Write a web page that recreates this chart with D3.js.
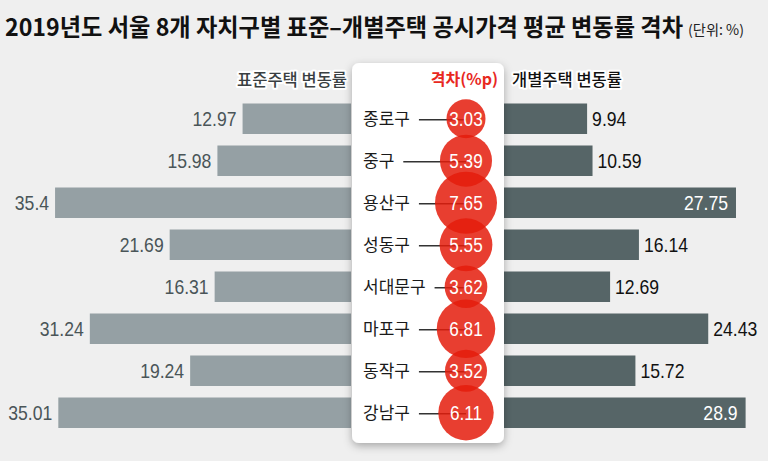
<!DOCTYPE html>
<html>
<head>
<meta charset="utf-8">
<script src="https://cdn.jsdelivr.net/npm/d3@7"></script>
<style>
  html, body { margin: 0; padding: 0; background: #efefef; }
  svg { display: block; }
</style>
</head>
<body>
<svg id="chart" width="768" height="461"></svg>
<script>
const districts = ["종로구", "중구", "용산구", "성동구", "서대문구", "마포구", "동작구", "강남구"];
const standardChange = [12.97, 15.98, 35.4, 21.69, 16.31, 31.24, 19.24, 35.01];
const individualChange = [9.94, 10.59, 27.75, 16.14, 12.69, 24.43, 15.72, 28.9];
const gapValues = [3.03, 5.39, 7.65, 5.55, 3.62, 6.81, 3.52, 6.11];
const gapLabels = ["3.03", "5.39", "7.65", "5.55", "3.62", "6.81", "3.52", "6.11"];
const standardLabels = ["12.97", "15.98", "35.4", "21.69", "16.31", "31.24", "19.24", "35.01"];
const individualLabels = ["9.94", "10.59", "27.75", "16.14", "12.69", "24.43", "15.72", "28.9"];

const titleText = "2019년도 서울 8개 자치구별 표준–개별주택 공시가격 평균 변동률 격차";
const unitText = "(단위: %)";
const leftHeader = "표준주택 변동률";
const rightHeader = "개별주택 변동률";
const gapHeader = "격차(%p)";

const svg = d3.select("#chart");
const numFont = "'Liberation Sans', Arial, sans-serif";
const krFont = "'Noto Sans CJK KR', 'Noto Sans', sans-serif";
const squeeze = 0.88;

const defs = svg.append("defs");
const f = defs.append("filter").attr("id", "shadow").attr("x", "-20%").attr("y", "-10%").attr("width", "140%").attr("height", "120%");
f.append("feDropShadow").attr("dx", 0).attr("dy", 3).attr("stdDeviation", 4).attr("flood-color", "#000").attr("flood-opacity", 0.3);

// scales
const leftZero = 351, rightZero = 504, pxPerUnit = 8.36;
const xLeft = d3.scaleLinear().domain([0, 40]).range([leftZero, leftZero - 40 * pxPerUnit]);
const xRight = d3.scaleLinear().domain([0, 40]).range([rightZero, rightZero + 40 * pxPerUnit]);
const y = d3.scalePoint().domain(districts).range([118.75, 412.75]);
const barH = 30.5;
const r = d3.scaleSqrt().domain([0, 7.65]).range([0, 31]);

// title
svg.append("text")
  .attr("x", 5).attr("y", 36)
  .attr("font-family", krFont).attr("font-weight", 700).attr("font-size", 23.5)
  .attr("fill", "#111")
  .attr("textLength", 678).attr("lengthAdjust", "spacingAndGlyphs")
  .text(titleText);
svg.append("text")
  .attr("x", 688).attr("y", 35)
  .attr("font-family", krFont).attr("font-size", 14)
  .attr("fill", "#222")
  .attr("textLength", 56).attr("lengthAdjust", "spacingAndGlyphs")
  .text(unitText);

// headers
svg.append("text")
  .attr("x", 347).attr("y", 86).attr("text-anchor", "end")
  .attr("font-family", krFont).attr("font-size", 16.5).attr("font-weight", 500)
  .attr("fill", "#3a3f42")
  .attr("stroke", "#fff").attr("stroke-width", 4).attr("paint-order", "stroke")
  .attr("stroke-linejoin", "round")
  .text(leftHeader);
svg.append("text")
  .attr("x", 512).attr("y", 86)
  .attr("font-family", krFont).attr("font-size", 16.5).attr("font-weight", 500)
  .attr("fill", "#111")
  .attr("stroke", "#fff").attr("stroke-width", 4).attr("paint-order", "stroke")
  .attr("stroke-linejoin", "round")
  .text(rightHeader);

const rows = districts.map((d, i) => ({
  d, s: standardChange[i], v: individualChange[i], g: gapValues[i],
  sl: standardLabels[i], vl: individualLabels[i], gl: gapLabels[i]
}));

// left bars
svg.append("g").selectAll("rect").data(rows).join("rect")
  .attr("x", d => xLeft(d.s)).attr("y", d => y(d.d) - barH / 2)
  .attr("width", d => xLeft(0) - xLeft(d.s)).attr("height", barH)
  .attr("fill", "#95a0a4");
svg.append("g").selectAll("text").data(rows).join("text")
  .attr("transform", d => `translate(${xLeft(d.s) - 6},${y(d.d) + 7.5}) scale(${squeeze},1)`)
  .attr("text-anchor", "end")
  .attr("font-family", numFont).attr("font-size", 20)
  .attr("fill", "#4a5558")
  .text(d => d.sl);

// right bars
svg.append("g").selectAll("rect").data(rows).join("rect")
  .attr("x", xRight(0)).attr("y", d => y(d.d) - barH / 2)
  .attr("width", d => xRight(d.v) - xRight(0)).attr("height", barH)
  .attr("fill", "#566567");
svg.append("g").selectAll("text").data(rows).join("text")
  .attr("transform", d => `translate(${d.v > 25 ? xRight(d.v) - 8 : xRight(d.v) + 5},${y(d.d) + 7.5}) scale(${squeeze},1)`)
  .attr("text-anchor", d => d.v > 25 ? "end" : "start")
  .attr("font-family", numFont).attr("font-size", 20)
  .attr("fill", d => d.v > 25 ? "#fff" : "#111")
  .text(d => d.vl);

// center panel
svg.append("rect")
  .attr("x", 352).attr("y", 63).attr("width", 152).attr("height", 380)
  .attr("rx", 7).attr("fill", "#fff")
  .attr("filter", "url(#shadow)");

svg.append("text")
  .attr("x", 498).attr("y", 85).attr("text-anchor", "end")
  .attr("font-family", krFont).attr("font-size", 16).attr("font-weight", 700)
  .attr("fill", "#e8281e")
  .text(gapHeader);

const cx = 466;
const names = svg.append("g").selectAll("text").data(rows).join("text")
  .attr("x", 363).attr("y", d => y(d.d) + 6.5)
  .attr("font-family", krFont).attr("font-size", 17)
  .attr("fill", "#1a1a1a")
  .text(d => d.d);
const lineG = svg.append("g");
names.each(function(d) {
  const w = this.getComputedTextLength();
  lineG.append("line")
    .attr("x1", 363 + w + 9).attr("x2", cx)
    .attr("y1", y(d.d) + 1).attr("y2", y(d.d) + 1)
    .attr("stroke", "#333").attr("stroke-width", 1.5);
});

svg.append("g").selectAll("circle").data(rows).join("circle")
  .attr("cx", cx).attr("cy", d => y(d.d)).attr("r", d => r(d.g))
  .attr("fill", "rgb(228,28,12)").attr("fill-opacity", 0.85);
svg.append("g").selectAll("text").data(rows).join("text")
  .attr("transform", d => `translate(${cx},${y(d.d) + 7}) scale(${squeeze},1)`)
  .attr("text-anchor", "middle")
  .attr("font-family", numFont).attr("font-size", 19.5)
  .attr("fill", "#fff")
  .text(d => d.gl);
</script>
</body>
</html>
